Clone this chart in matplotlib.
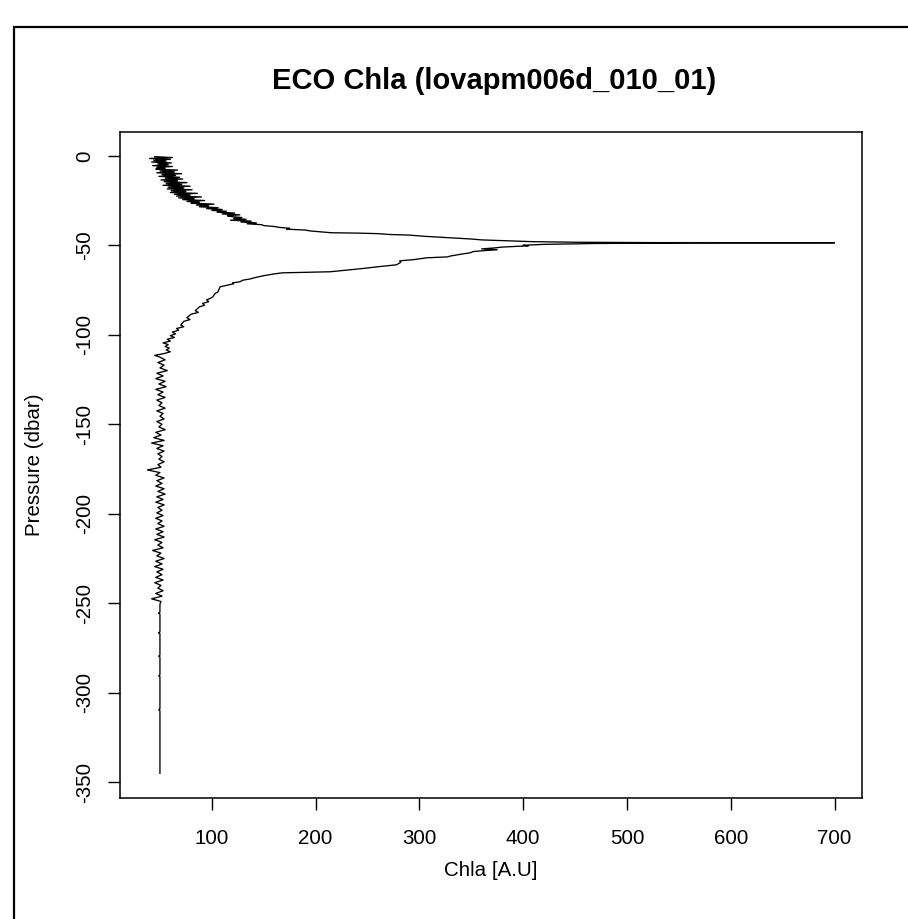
import matplotlib
matplotlib.use("Agg")
import matplotlib.pyplot as plt
from matplotlib.patches import Rectangle
import numpy as np

plt.rcParams['font.family'] = ['Liberation Sans', 'DejaVu Sans']
plt.rcParams['axes.unicode_minus'] = False

title = "ECO Chla (lovapm006d_010_01)"
xlabel = "Chla [A.U]"
ylabel = "Pressure (dbar)"
xticks = [100, 200, 300, 400, 500, 600, 700]
yticks = [0, -50, -100, -150, -200, -250, -300, -350]

# surface layer (0.5 dbar steps)
pres_top = [0.5, 1.0, 1.5, 2.0, 2.5, 3.0, 3.5, 4.0, 4.5, 5.0, 5.5, 6.0, 6.5, 7.0, 7.5,
            8.0, 8.5, 9.0, 9.5, 10.0, 10.5, 11.0, 11.5, 12.0, 12.5, 13.0, 13.5, 14.0,
            14.5, 15.0, 15.5, 16.0, 16.5, 17.0, 17.5, 18.0, 18.5, 19.0, 19.5, 20.0,
            20.5, 21.0, 21.5, 22.0, 22.5, 23.0, 23.5, 24.0, 24.5, 25.0, 25.5, 26.0,
            26.5, 27.0, 27.5, 28.0, 28.5, 29.0, 29.5, 30.0, 30.5, 31.0, 31.5, 32.0,
            32.5, 33.0, 33.5, 34.0, 34.5, 35.0, 35.5, 36.0, 36.5, 37.0, 37.5, 38.0]
chla_top = [45, 62, 40, 60, 44, 56, 42, 61, 48, 58, 43, 62, 47, 55, 46,
            67, 50, 64, 47, 71, 52, 65, 49, 69, 55, 72, 51, 67,
            54, 76, 56, 71, 53, 79, 58, 73, 57, 81, 61, 75,
            60, 86, 64, 79, 66, 90, 68, 83, 72, 93, 76, 88,
            80, 102, 85, 97, 88, 106, 95, 110, 100, 114, 105, 122,
            110, 127, 115, 119, 129, 121, 133, 118, 138, 128, 143, 134]

# chlorophyll maximum and its decline
pres_mid = [38.5, 39.0, 39.5, 40.0, 40.5, 41.0, 41.5, 42.0, 42.5, 43.0, 43.2, 43.5,
            44.0, 44.3, 45.0, 45.5, 46.0, 46.5, 47.0, 47.5, 48.0, 48.3, 48.5, 48.6,
            48.7, 49.0, 49.5, 50.0, 50.3, 51.0, 51.5, 52.0, 52.5, 53.0, 53.5, 54.2,
            55.0, 56.0, 56.5, 57.0, 58.0, 58.7, 59.5, 60.9, 62.0, 63.0, 63.7, 64.3,
            64.8, 65.1, 65.4, 66.0, 67.0, 68.0, 68.8, 69.5, 70.4, 71.0, 71.5, 72.3,
            73.2, 74.5, 76.0, 77.0, 78.8, 79.5, 80.5, 81.5, 82.5, 83.5, 84.4, 85.5,
            86.5, 87.5, 88.5, 89.5, 90.5, 91.5, 92.5, 93.3, 94.5, 95.5, 96.5, 97.5,
            98.5, 99.5, 100.5, 101.5, 102.5, 103.5, 104.5, 105.5, 106.5, 107.5,
            108.5, 109.5, 110.5, 111.5, 112.5]
chla_mid = [148, 150, 160, 165, 175, 172, 190, 195, 205, 215, 240, 260,
            272, 290, 305, 320, 335, 350, 360, 385, 410, 450, 520, 700,
            560, 470, 420, 400, 405, 380, 372, 360, 375, 362, 352, 349,
            340, 330, 327, 307, 295, 281, 282, 278, 260, 245, 233, 222,
            214, 190, 168, 160, 150, 142, 137, 130, 127, 120, 121, 115,
            108, 107, 106, 103, 101, 99, 95, 97, 91, 93, 88, 86,
            84, 87, 80, 78, 76, 79, 73, 72, 70, 73, 66, 68,
            62, 65, 60, 64, 57, 60, 53, 58, 55, 59,
            56, 60, 54, 45, 50]

# deep layer (1.5 dbar steps)
pres_deep = [114.0, 115.5, 117.0, 118.5, 120.0, 121.5, 123.0, 124.5, 126.0, 127.5,
             129.0, 130.5, 132.0, 133.5, 135.0, 136.5, 138.0, 139.5, 141.0, 142.5,
             144.0, 145.5, 147.0, 148.5, 150.0, 151.5, 153.0, 154.5, 156.0, 157.5,
             159.0, 160.5, 162.0, 163.5, 165.0, 166.5, 168.0, 169.5, 171.0, 172.5,
             174.0, 175.5, 177.0, 178.5, 180.0, 181.5, 183.0, 184.5, 186.0, 187.5,
             189.0, 190.5, 192.0, 193.5, 195.0, 196.5, 198.0, 199.5, 201.0, 202.5,
             204.0, 205.5, 207.0, 208.5, 210.0, 211.5, 213.0, 214.5, 216.0, 217.5,
             219.0, 220.5, 222.0, 223.5, 225.0, 226.5, 228.0, 229.5, 231.0, 232.5,
             234.0, 235.5, 237.0, 238.5, 240.0, 241.5, 243.0, 244.5, 246.0, 247.5,
             249.0, 250.5]
chla_deep = [55, 48, 54, 50, 57, 47, 53, 46, 55, 49, 56, 46, 53, 48, 55, 47,
             52, 49, 55, 47, 53, 50, 54, 47, 52, 49, 55, 46, 51, 44, 54, 42,
             53, 47, 54, 48, 52, 49, 54, 48, 51, 38, 50, 46, 54, 47, 52, 46,
             54, 48, 55, 47, 53, 46, 54, 48, 52, 47, 53, 46, 52, 48, 54, 46,
             53, 47, 54, 45, 52, 48, 53, 43, 51, 47, 54, 46, 52, 45, 53, 47,
             52, 46, 53, 45, 51, 48, 53, 46, 52, 42, 51, 50]

# bottom, sparse sampling
pres_bot = [255, 255.5, 256, 266, 266.5, 267, 279, 279.5, 280, 290, 290.5, 291,
            309, 309.5, 310, 345]
chla_bot = [50, 48.5, 50, 50, 48.5, 50, 50, 48.8, 50, 50, 48.8, 50,
            50, 48.8, 50, 50]

pres = np.array(pres_top + pres_mid + pres_deep + pres_bot, dtype=float)
chla = np.array(chla_top + chla_mid + chla_deep + chla_bot, dtype=float)
depth = -pres

W, H = 908, 919
fig = plt.figure(figsize=(W / 100, H / 100), dpi=100)
fig.patch.set_facecolor('white')

# outer frame
fig.patches.append(Rectangle((14 / W, -0.2), 2.0, 1 - 27 / H + 0.2,
                             transform=fig.transFigure, fill=False,
                             edgecolor='black', linewidth=1.6, zorder=0))

ax = fig.add_axes([120 / W, 1 - 798 / H, (862 - 120) / W, (798 - 132) / H])
ax.plot(chla, depth, color='black', linewidth=0.95)

xr = chla.max() - chla.min()
yr = depth.max() - depth.min()
ax.set_xlim(chla.min() - 0.04 * xr, chla.max() + 0.04 * xr)
ax.set_ylim(depth.min() - 0.04 * yr, depth.max() + 0.04 * yr)

ax.set_xticks(xticks)
ax.set_xticklabels([str(v) for v in xticks])
ax.set_yticks(yticks)
ax.set_yticklabels([str(v) for v in yticks], rotation=90, va='center')
ax.tick_params(axis='both', direction='out', length=8.6, width=1.0,
               labelsize=14.8, colors='black')
ax.tick_params(axis='x', pad=14)
ax.tick_params(axis='y', pad=10)
for s in ax.spines.values():
    s.set_linewidth(1.1)

fig.text(494 / W, 1 - 81 / H, title, ha='center', va='center',
         fontsize=21, fontweight='bold')
fig.text(491 / W, 1 - 870 / H, xlabel, ha='center', va='center', fontsize=14.8)
fig.text(35 / W, 1 - 465 / H, ylabel, ha='center', va='center', fontsize=14.8,
         rotation=90)

fig.savefig('out.png', dpi=100, facecolor='white')
